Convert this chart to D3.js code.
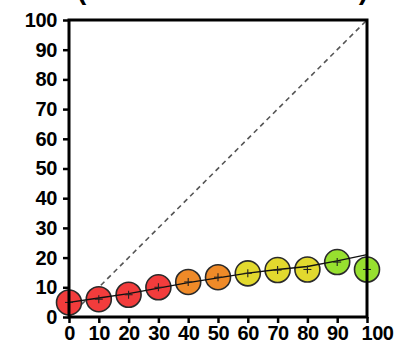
<!DOCTYPE html>
<html><head><meta charset="utf-8">
<script src="https://cdn.jsdelivr.net/npm/d3@7"></script>
<style>
html,body{margin:0;padding:0;background:#fff;}
svg{display:block;}
text{font-family:"Liberation Sans",Arial,sans-serif;font-weight:bold;}
</style></head><body>
<svg id="c" width="395" height="344"></svg>
<script>
const categories = [0, 10, 20, 30, 40, 50, 60, 70, 80, 90, 100];
const observed = [4.9, 6.0, 7.5, 10.0, 11.8, 13.4, 14.7, 15.8, 16.0, 18.5, 16.0];
const fitted = [4.9, 6.4, 7.9, 9.7, 11.6, 13.2, 14.8, 16.0, 17.0, 18.9, 21.0];
const groups = ["low","low","low","low","mid","mid","high","high","high","top","top"];
const groupNames = ["low","mid","high","top"];
const groupColors = ["#f23c3c","#ef8a28","#e2d92e","#97e02f"];
const tickValues = [0,10,20,30,40,50,60,70,80,90,100];
const diagonal = [[0,0],[100,100]];
const titleText = "(Calibration Plot)";

const svg = d3.select("#c");
const L = 69, R = 367, T = 20, B = 317;
const x = d3.scaleLinear().domain([0,100]).range([L,R]);
const y = d3.scaleLinear().domain([0,100]).range([B,T]);
const col = d3.scaleOrdinal().domain(groupNames).range(groupColors);

// title (mostly above the visible area; only the parentheses' tails show)
svg.append("text").attr("x", 77).attr("y", -1.5)
  .attr("font-size", 28).attr("textLength", 291).attr("lengthAdjust","spacing")
  .text(titleText);

// dashed identity line
svg.append("line")
  .attr("x1", x(diagonal[0][0])).attr("y1", y(diagonal[0][1]))
  .attr("x2", x(diagonal[1][0])).attr("y2", y(diagonal[1][1]))
  .attr("stroke", "#555").attr("stroke-width", 1.6).attr("stroke-dasharray", "5,4");

// points
const pts = categories.map((c,i)=>({c, v: observed[i], g: groups[i], f: fitted[i]}));
svg.append("g").selectAll("circle").data(pts).join("circle")
  .attr("cx", d=>x(d.c)).attr("cy", d=>y(d.v)).attr("r", 12.5)
  .attr("fill", d=>col(d.g)).attr("stroke", "#2a2a2a").attr("stroke-width", 1.6);

// fitted line
svg.append("path").datum(pts)
  .attr("d", d3.line().x(d=>x(d.c)).y(d=>y(d.f)))
  .attr("fill","none").attr("stroke","#111").attr("stroke-width",1.3);

// crosses
const cr = svg.append("g").attr("stroke","#222").attr("stroke-width",1.1);
pts.forEach(d=>{
  cr.append("line").attr("x1",x(d.c)-4).attr("x2",x(d.c)+4).attr("y1",y(d.v)).attr("y2",y(d.v));
  cr.append("line").attr("x1",x(d.c)).attr("x2",x(d.c)).attr("y1",y(d.v)-4).attr("y2",y(d.v)+4);
});

// frame
svg.append("rect").attr("x",L).attr("y",T).attr("width",R-L).attr("height",B-T)
  .attr("fill","none").attr("stroke","#000").attr("stroke-width",3);

// axes
const ax = svg.append("g").attr("transform",`translate(${L},0)`)
  .call(d3.axisLeft(y).tickValues(tickValues).tickSize(6).tickPadding(6).tickFormat(d3.format("d")));
const bx = svg.append("g").attr("transform",`translate(0,${B})`)
  .call(d3.axisBottom(x).tickValues(tickValues).tickSize(6).tickPadding(3).tickFormat(d3.format("d")));
[ax,bx].forEach(g=>{
  g.select(".domain").remove();
  g.selectAll(".tick line").attr("stroke","#000").attr("stroke-width",2.5);
  g.selectAll(".tick text").attr("fill","#000").attr("font-size",20)
    .attr("font-family","'Liberation Sans',Arial,sans-serif").attr("font-weight","bold")
    .attr("letter-spacing","-0.4");
});
// last x label sits nudged right of its tick, as in the reference
bx.selectAll(".tick text").filter(d=>d===100).attr("dx", 10);
</script>
</body></html>
